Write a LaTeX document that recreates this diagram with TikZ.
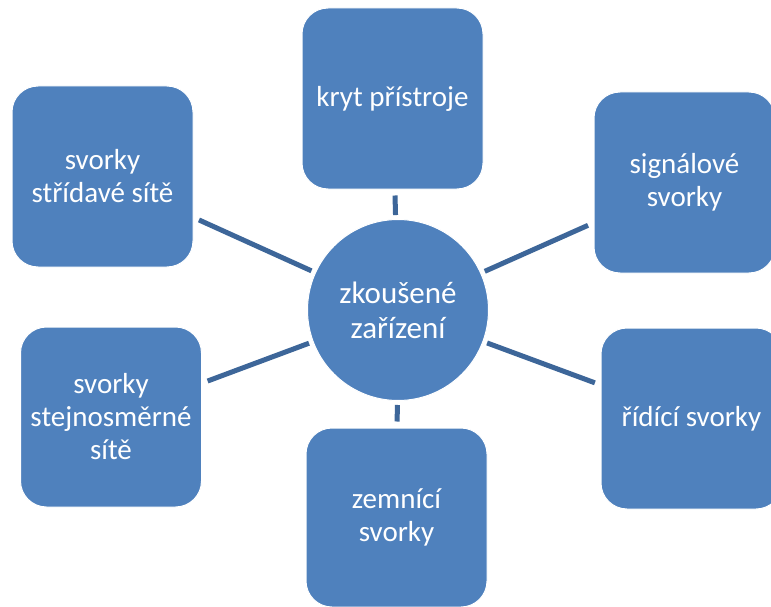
\documentclass[tikz,border=0pt]{standalone}
\usepackage{fontspec}
\setmainfont{Carlito}
\definecolor{boxblue}{HTML}{4F81BD}
\definecolor{spoke}{HTML}{3D6699}
\tikzset{
  leaf/.style={rectangle, rounded corners=26pt, fill=boxblue, draw=white, line width=1pt,
    minimum width=181pt, minimum height=181pt, inner sep=0pt, align=center,
    text=white, font=\fontsize{29}{33}\selectfont},
  hub/.style={circle, fill=boxblue, draw=white, line width=1pt, minimum size=181pt,
    inner sep=0pt, align=center, text=white, font=\fontsize{31}{35}\selectfont},
  spokeline/.style={draw=spoke, line width=5pt, shorten <=4pt, shorten >=6pt}
}
\begin{document}
\begin{tikzpicture}[x=1pt,y=-1pt]
\useasboundingbox (0,0) rectangle (771,607);
\clip (0,0) rectangle (771,607);
\fill[white] (0,0) rectangle (771,607);
\node[hub] (c) at (398,310) {zkoušené\\zařízení};
\node[leaf] (t) at (392.5,98.5) {kryt přístroje};
\node[leaf] (tl) at (102.5,176.5) {svorky\\střídavé sítě};
\node[leaf] (tr) at (684.5,182.5) {signálové\\svorky};
\node[leaf, minimum height=180pt] (bl) at (111,417) {svorky\\stejnosměrné\\sítě};
\node[leaf] (br) at (691.5,418.5) {řídící svorky};
\node[leaf, minimum height=179pt] (b) at (396.5,517.5) {zemnící\\svorky};
\foreach \n in {t,tl,tr,bl,br,b}{
  \draw[spokeline] (c) -- (\n);
}
\end{tikzpicture}
\end{document}
